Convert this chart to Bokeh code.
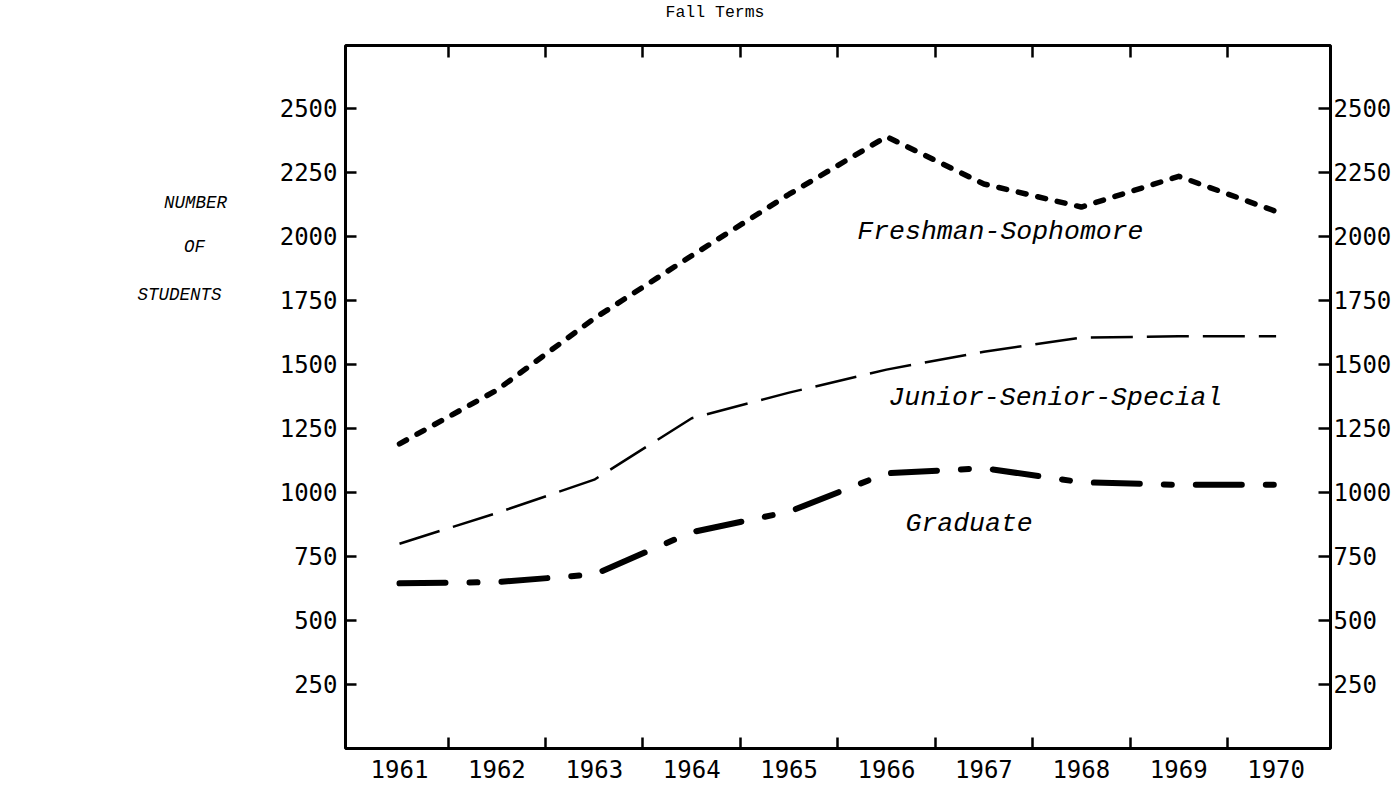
from bokeh.plotting import figure
from bokeh.layouts import column, row
from bokeh.models import Range1d, LinearAxis, FixedTicker, Label
from bokeh.embed import file_html
from bokeh.resources import INLINE

# ---- data ----
years = [1961, 1962, 1963, 1964, 1965, 1966, 1967, 1968, 1969, 1970]
freshman_sophomore = [1190, 1400, 1680, 1925, 2165, 2390, 2205, 2115, 2235, 2098]
junior_senior_special = [800, 920, 1050, 1290, 1390, 1480, 1550, 1605, 1610, 1610]
graduate = [645, 650, 680, 845, 925, 1075, 1095, 1040, 1030, 1030]
y_ticks = [250, 500, 750, 1000, 1250, 1500, 1750, 2000, 2250, 2500]
year_boundaries = [1961.5, 1962.5, 1963.5, 1964.5, 1965.5, 1966.5, 1967.5, 1968.5, 1969.5]

TICK_FONT = "DejaVu Sans Mono"
TYPE_FONT = "Liberation Mono"

TOTAL_W, TOTAL_H = 1396, 784
TOP_H = 30
SIDE_W = 240


def blank_fig(w, h):
    f = figure(width=w, height=h, x_range=Range1d(0, w), y_range=Range1d(h, 0),
               title=None, output_backend="svg", toolbar_location=None,
               x_axis_location=None, y_axis_location=None,
               min_border=0, min_border_left=0, min_border_right=0,
               min_border_top=0, min_border_bottom=0)
    f.grid.visible = False
    f.outline_line_color = None
    f.background_fill_color = "white"
    f.border_fill_color = "white"
    return f


def tlabel(fig, x, y, text, size, italic=True, align="left"):
    fig.add_layout(Label(x=x, y=y, text=text, text_font=TYPE_FONT,
                         text_font_style="italic" if italic else "normal",
                         text_font_size=size, text_color="black",
                         text_align=align, text_baseline="middle"))


# ---- header strip ----
top_fig = blank_fig(TOTAL_W, TOP_H)
tlabel(top_fig, 665, 12, "Fall Terms", "16.5px", italic=False)

# ---- left strip with the y title ----
row_h = TOTAL_H - TOP_H
side_fig = blank_fig(SIDE_W, row_h)
tlabel(side_fig, 195, 199 - TOP_H, "NUMBER", "17.5px", align="center")
tlabel(side_fig, 194, 246 - TOP_H, "OF", "17.5px", align="center")
tlabel(side_fig, 179, 298 - TOP_H, "STUDENTS", "17.5px", align="center")

# ---- main chart ----
main_w = TOTAL_W - SIDE_W
p = figure(width=main_w, height=row_h, title=None,
           x_range=Range1d(1960.4456, 1970.5585), y_range=Range1d(0, 2746),
           output_backend="svg", toolbar_location=None,
           x_axis_location=None, y_axis_location=None,
           min_border_left=345 - SIDE_W, min_border_right=TOTAL_W - 1330,
           min_border_top=45 - TOP_H, min_border_bottom=TOTAL_H - 748)
p.grid.visible = False
p.background_fill_color = "white"
p.border_fill_color = "white"
p.outline_line_color = "black"
p.outline_line_width = 3


def styled_axis(ticker, **kw):
    return LinearAxis(ticker=ticker, axis_line_color=None,
                      major_tick_line_color="black", major_tick_line_width=2.5,
                      minor_tick_line_color="black", minor_tick_line_width=2.5,
                      major_label_text_font=TICK_FONT,
                      major_label_text_color="black", **kw)


left = styled_axis(FixedTicker(ticks=y_ticks), major_tick_in=11, major_tick_out=0,
                   minor_tick_in=0, minor_tick_out=0, major_label_standoff=8,
                   major_label_text_font_size="24px")
p.add_layout(left, "left")

right = styled_axis(FixedTicker(ticks=y_ticks), major_tick_in=12, major_tick_out=0,
                    minor_tick_in=0, minor_tick_out=0, major_label_standoff=3,
                    major_label_text_font_size="24px")
p.add_layout(right, "right")

bottom = styled_axis(FixedTicker(ticks=years, minor_ticks=year_boundaries),
                     major_tick_in=0, major_tick_out=0,
                     minor_tick_in=11, minor_tick_out=0, major_label_standoff=11,
                     major_label_text_font_size="24px")
p.add_layout(bottom, "below")

top = styled_axis(FixedTicker(ticks=[], minor_ticks=year_boundaries),
                  major_tick_in=0, major_tick_out=0,
                  minor_tick_in=12, minor_tick_out=0, major_label_standoff=0,
                  major_label_text_font_size="1px")
p.add_layout(top, "above")

# ---- series ----
p.line(years, freshman_sophomore, line_color="black", line_width=5.5,
       line_dash="8 12", line_cap="round", line_join="round")
p.line(years, junior_senior_special, line_color="black", line_width=2.5,
       line_dash="42 14", line_join="round")
p.line(years, graduate, line_color="black", line_width=6,
       line_dash="46 24 8 24", line_cap="round", line_join="round")

# ---- in-plot series names ----
tlabel(p, 1965.70, 2019, "Freshman-Sophomore", "26.5px")
tlabel(p, 1966.02, 1371, "Junior-Senior-Special", "26.5px")
tlabel(p, 1966.195, 875, "Graduate", "26.5px")

layout = column(top_fig, row(side_fig, p, spacing=0), spacing=0)
open("out.html", "w").write(file_html(layout, INLINE))
